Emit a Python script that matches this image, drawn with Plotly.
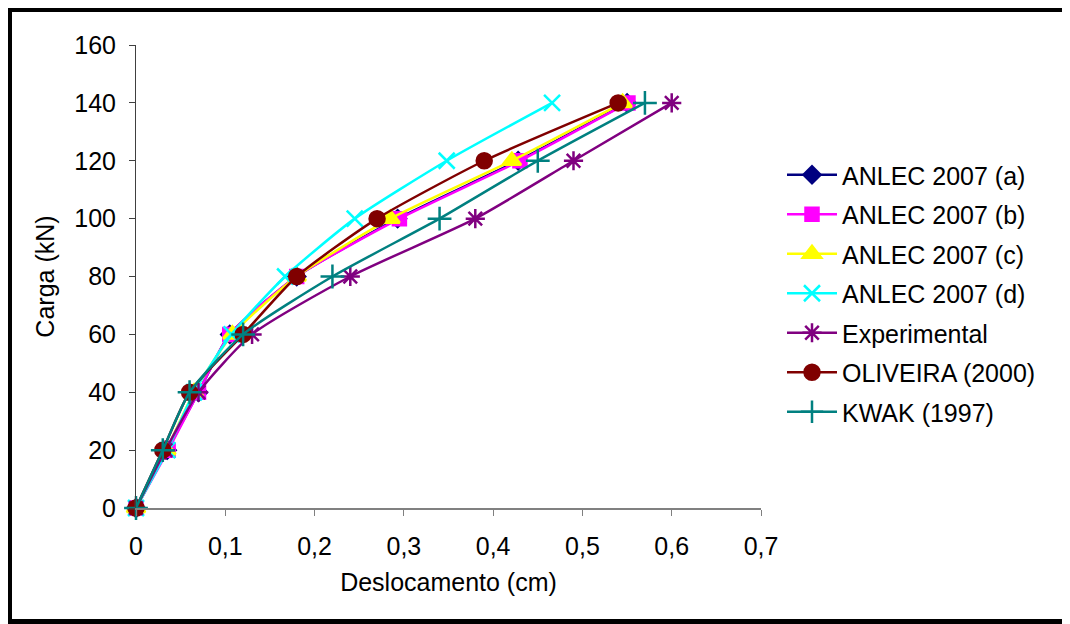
import plotly.graph_objects as go

carga = [0, 20, 40, 60, 80, 100, 120, 140]
anlec_a = [0, 0.035, 0.070, 0.105, 0.180, 0.293, 0.428, 0.550]
anlec_b = [0, 0.036, 0.070, 0.105, 0.180, 0.295, 0.430, 0.551]
anlec_c = [0, 0.034, 0.065, 0.108, 0.180, 0.285, 0.421, 0.545]
anlec_d = [0, 0.035, 0.065, 0.107, 0.167, 0.245, 0.348, 0.466]
experimental = [0, 0.033, 0.070, 0.130, 0.240, 0.380, 0.490, 0.600]
oliveira = [0, 0.030, 0.060, 0.120, 0.180, 0.270, 0.390, 0.540]
kwak = [0, 0.030, 0.060, 0.120, 0.220, 0.340, 0.450, 0.570]

x_ticks = [0, 0.1, 0.2, 0.3, 0.4, 0.5, 0.6, 0.7]
x_labels = ["0", "0,1", "0,2", "0,3", "0,4", "0,5", "0,6", "0,7"]
y_ticks = [0, 20, 40, 60, 80, 100, 120, 140, 160]

FONT = "Liberation Sans, Arial, sans-serif"
FS = 25

series = [
    ("ANLEC 2007 (a)", anlec_a, "#000080", "diamond", 13),
    ("ANLEC 2007 (b)", anlec_b, "#FF00FF", "square", 13),
    ("ANLEC 2007 (c)", anlec_c, "#FFFF00", "triangle-up", 16),
    ("ANLEC 2007 (d)", anlec_d, "#00FFFF", "x-thin-open", 16),
    ("Experimental", experimental, "#800080", "asterisk-open", 16),
    ("OLIVEIRA (2000)", oliveira, "#800000", "circle", 15),
    ("KWAK (1997)", kwak, "#008080", "cross-thin-open", 17),
]

fig = go.Figure()
for i, (name, xs, color, sym, size) in enumerate(series):
    fig.add_trace(go.Scatter(
        x=xs, y=carga, name=name, mode="lines+markers",
        line=dict(color=color, width=2.5, shape="spline", smoothing=0.6),
        marker=dict(symbol=sym, size=size, color=color,
                    line=dict(color=color, width=2.5)),
        legendgroup="g%d" % i, cliponaxis=False,
    ))

# page is offset by the 8px body margin; figure coords = page coords - 8
OFF = 8
L, R, T, B = 136 - OFF, 761 - OFF, 45 - OFF, 508 - OFF
W, H = 1070 - OFF, 624 - OFF


def px_x(p):
    return (p - OFF - L) / (R - L)


def px_y(p):
    return (B - (p - OFF)) / (B - T)


frame = dict(color="black", width=6)
# top, left and bottom edges of the outer frame
fig.add_shape(type="line", xref="paper", yref="paper",
              x0=px_x(6), x1=px_x(1075), y0=px_y(9), y1=px_y(9), line=frame)
fig.add_shape(type="line", xref="paper", yref="paper",
              x0=px_x(9), x1=px_x(9), y0=px_y(6), y1=px_y(630), line=frame)
fig.add_shape(type="line", xref="paper", yref="paper",
              x0=px_x(6), x1=px_x(1075), y0=px_y(622), y1=px_y(622), line=frame)

fig.update_layout(
    width=W, height=H,
    margin=dict(l=L, r=W - R, t=T, b=H - B, pad=0),
    paper_bgcolor="white", plot_bgcolor="white",
    separators=",.",
    font=dict(family=FONT, size=FS, color="black"),
    showlegend=True,
    legend=dict(x=px_x(782), y=px_y(152), xanchor="left", yanchor="top",
                font=dict(family=FONT, size=FS, color="black"),
                tracegroupgap=4, itemwidth=50, bgcolor="rgba(0,0,0,0)"),
    xaxis=dict(range=[0, 0.7], tickvals=x_ticks, ticktext=x_labels,
               showgrid=False, zeroline=False, showline=True,
               linecolor="#808080", linewidth=2, ticks="outside",
               ticklen=6, tickcolor="#808080", tickwidth=1,
               ticklabelstandoff=9,
               title=dict(text="Deslocamento (cm)", standoff=14,
                          font=dict(family=FONT, size=FS))),
    yaxis=dict(range=[0, 160], tickvals=y_ticks,
               showgrid=False, zeroline=False, showline=True,
               linecolor="#404040", linewidth=1, ticks="outside",
               ticklen=6, tickcolor="#404040", tickwidth=1,
               ticklabelstandoff=8,
               title=dict(text="Carga (kN)", standoff=12,
                          font=dict(family=FONT, size=FS))),
)

fig.write_html("out.html")
